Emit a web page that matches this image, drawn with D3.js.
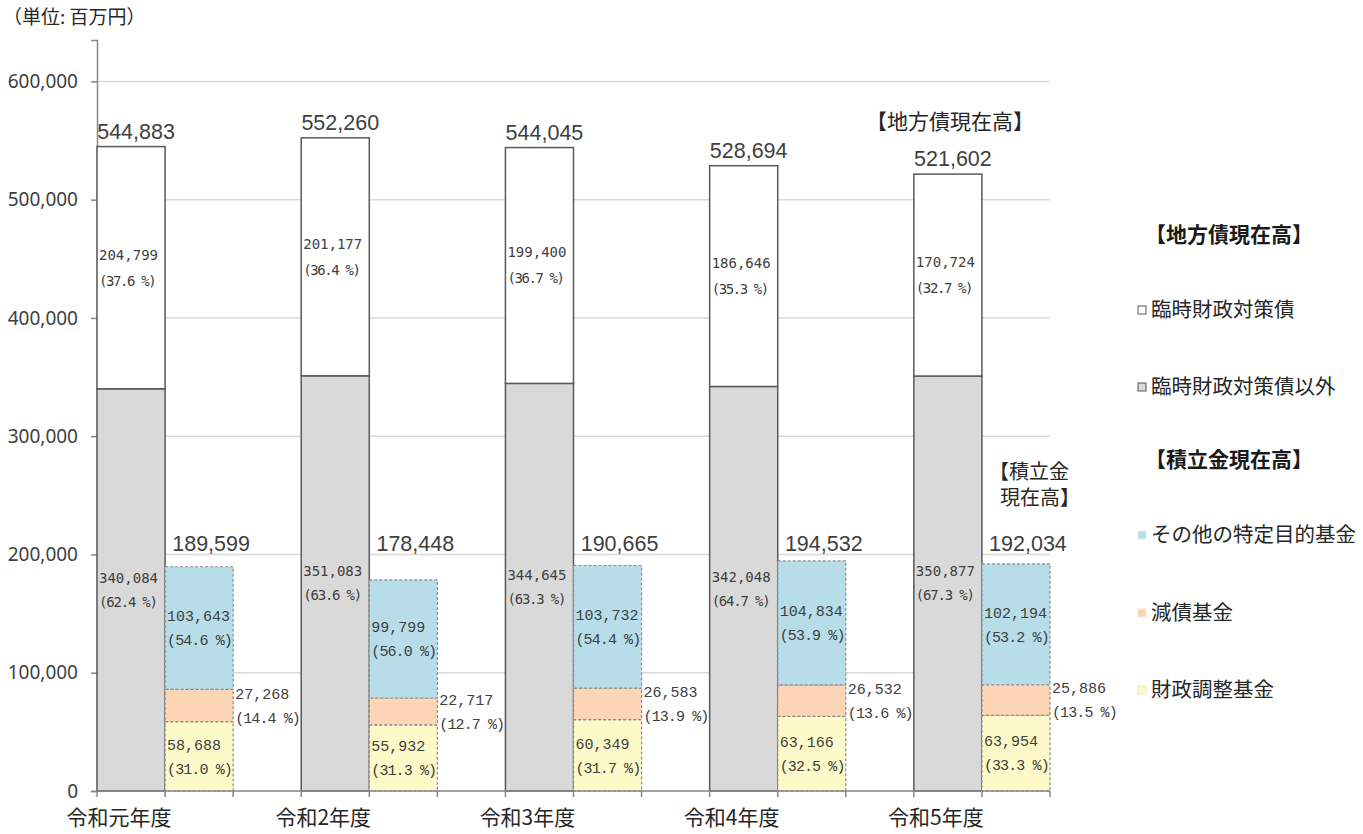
<!DOCTYPE html>
<html><head><meta charset="utf-8">
<script src="https://cdn.jsdelivr.net/npm/d3@7/dist/d3.min.js"></script>
<style>body{margin:0;background:#fff}svg{display:block}</style>
</head><body>
<svg id="c" width="1363" height="834"></svg>
<script>
const categories = ["令和元年度","令和2年度","令和3年度","令和4年度","令和5年度"];
const debtTotal   = [544883, 552260, 544045, 528694, 521602];
const rinzai      = [204799, 201177, 199400, 186646, 170724];
const rinzaiPct   = ["37.6","36.4","36.7","35.3","32.7"];
const rinzaiIgai  = [340084, 351083, 344645, 342048, 350877];
const igaiPct     = ["62.4","63.6","63.3","64.7","67.3"];
const fundTotal   = [189599, 178448, 190665, 194532, 192034];
const zaisei      = [58688, 55932, 60349, 63166, 63954];
const zaiseiPct   = ["31.0","31.3","31.7","32.5","33.3"];
const gensai      = [27268, 22717, 26583, 26532, 25886];
const gensaiPct   = ["14.4","12.7","13.9","13.6","13.5"];
const sonota      = [103643, 99799, 103732, 104834, 102194];
const sonotaPct   = ["54.6","56.0","54.4","53.9","53.2"];
const yTicks      = [0,100000,200000,300000,400000,500000,600000];
const legendItems = [
  {t:"【地方債現在高】", head:true},
  {t:"臨時財政対策債", fill:"#ffffff", stroke:"#595959"},
  {t:"臨時財政対策債以外", fill:"#d9d9d9", stroke:"#595959"},
  {t:"【積立金現在高】", head:true},
  {t:"その他の特定目的基金", fill:"#b7dde8", stroke:"#d8eef4"},
  {t:"減債基金", fill:"#fcd5b5", stroke:"#fde8d8"},
  {t:"財政調整基金", fill:"#fdf9c9", stroke:"#e9efb0"}
];

const svg = d3.select("#c");
const JP = "'Noto Sans CJK JP','Noto Sans',sans-serif";
const fmt = d3.format(",");
const nSlots = categories.length*3 - 1;
const x = d3.scaleBand().domain(d3.range(nSlots)).range([97,1050]).padding(0);
const y = d3.scaleLinear().domain([0,635000]).range([791,40]);
const bw = x.bandwidth();

// gridlines
svg.append("g").selectAll("line").data(yTicks.filter(d=>d>0)).join("line")
  .attr("x1",97).attr("x2",1050).attr("y1",d=>y(d)).attr("y2",d=>y(d))
  .attr("stroke","#d9d9d9").attr("stroke-width",1.5);

// y axis
const yAxis = svg.append("g").attr("transform","translate(97,0)")
  .call(d3.axisLeft(y).tickValues(yTicks).tickFormat(d=>fmt(d)).tickSizeOuter(0).tickSize(6).tickPadding(13));
yAxis.select(".domain").attr("stroke","#868686").attr("stroke-width",1.5);
yAxis.selectAll(".tick line").attr("stroke","#868686").attr("stroke-width",1.5);
yAxis.selectAll("text").attr("font-family","'Noto Sans',sans-serif").attr("font-size",19).attr("fill","#404040");

// bars
const g = svg.append("g");
categories.forEach((c,i)=>{
  const xd = x(i*3), xf = x(i*3+1);
  g.append("rect").attr("x",xd).attr("width",bw)
    .attr("y",y(rinzaiIgai[i])).attr("height",y(0)-y(rinzaiIgai[i]))
    .attr("fill","#d9d9d9").attr("stroke","#595959").attr("stroke-width",1.5);
  g.append("rect").attr("x",xd).attr("width",bw)
    .attr("y",y(rinzaiIgai[i]+rinzai[i])).attr("height",y(rinzaiIgai[i])-y(rinzaiIgai[i]+rinzai[i]))
    .attr("fill","#ffffff").attr("stroke","#595959").attr("stroke-width",1.5);
  const segs = [
    {v0:0, v1:zaisei[i], fill:"#fdf9c9"},
    {v0:zaisei[i], v1:zaisei[i]+gensai[i], fill:"#fcd5b5"},
    {v0:zaisei[i]+gensai[i], v1:zaisei[i]+gensai[i]+sonota[i], fill:"#b7dde8"}
  ];
  segs.forEach(s=>{
    g.append("rect").attr("x",xf).attr("width",bw)
      .attr("y",y(s.v1)).attr("height",y(s.v0)-y(s.v1))
      .attr("fill",s.fill).attr("stroke","#8c8c8c").attr("stroke-width",1.2)
      .attr("stroke-dasharray","3,2");
  });
});

// x axis
svg.append("line").attr("x1",97).attr("x2",1050).attr("y1",y(0)).attr("y2",y(0))
  .attr("stroke","#868686").attr("stroke-width",1.5);
svg.append("g").selectAll("line").data(d3.range(nSlots+1)).join("line")
  .attr("x1",d=>97+d*bw).attr("x2",d=>97+d*bw).attr("y1",y(0)).attr("y2",y(0)+6)
  .attr("stroke","#868686").attr("stroke-width",1.5);
svg.append("g").selectAll("text").data(categories).join("text")
  .attr("x",(d,i)=>x(i*3)+bw/2-12).attr("y",825)
  .attr("text-anchor","middle").attr("font-family",JP).attr("font-size",21).attr("fill","#262626")
  .text(d=>d);

// labels
function twoLine(xp, yc, a, b, font, size, gap, ls){
  const t = svg.append("text").attr("font-family",font).attr("font-size",size)
    .attr("fill","#404040");
  t.append("tspan").attr("x",xp).attr("y",yc-gap/2+size*0.35).text(a);
  t.append("tspan").attr("x",xp).attr("y",yc+gap/2+size*0.35).attr("letter-spacing",ls).text(b);
}
const MONO_S = "'DejaVu Sans Mono',monospace";
const MONO_F = "'Liberation Mono',monospace";
const SANS = "'Liberation Sans',sans-serif";
categories.forEach((c,i)=>{
  const xd = x(i*3), xf = x(i*3+1);
  const topD = rinzaiIgai[i]+rinzai[i];
  twoLine(xd+2, (y(rinzaiIgai[i])+y(topD))/2, fmt(rinzai[i]), "("+rinzaiPct[i]+" %)", MONO_S, 14, 26, -1.4);
  twoLine(xd+2, (y(0)+y(rinzaiIgai[i]))/2, fmt(rinzaiIgai[i]), "("+igaiPct[i]+" %)", MONO_S, 14, 24, -1.2);
  svg.append("text").attr("x",xd+bw/2+5).attr("y",y(debtTotal[i])-8)
    .attr("text-anchor","middle").attr("font-family",SANS)
    .attr("font-size",21.5).attr("fill","#404040").text(fmt(debtTotal[i]));
  const a = zaisei[i], b = a+gensai[i], t = b+sonota[i];
  twoLine(xf+2, (y(0)+y(a))/2, fmt(zaisei[i]), "("+zaiseiPct[i]+" %)", MONO_F, 15, 24, -0.9);
  twoLine(xf+bw+2, (y(a)+y(b))/2, fmt(gensai[i]), "("+gensaiPct[i]+" %)", MONO_F, 15, 24, -0.9);
  twoLine(xf+2, (y(b)+y(t))/2, fmt(sonota[i]), "("+sonotaPct[i]+" %)", MONO_F, 15, 24, -0.9);
  svg.append("text").attr("x",xf+bw/2+12).attr("y",y(d3.max(fundTotal))-10)
    .attr("text-anchor","middle").attr("font-family",SANS)
    .attr("font-size",21.5).attr("fill","#404040").text(fmt(fundTotal[i]));
});

// annotations on last group
const last = categories.length-1;
svg.append("text").attr("x",x(last*3)+bw/2+2).attr("y",y(debtTotal[last])-45)
  .attr("text-anchor","middle").attr("font-family",JP).attr("font-size",21).attr("fill","#262626")
  .text("【地方債現在高】");
const ann = svg.append("text").attr("font-family",JP).attr("font-size",20).attr("fill","#262626");
ann.append("tspan").attr("x",x(last*3+1)+7).attr("y",479).text("【積立金");
ann.append("tspan").attr("x",x(last*3+1)+18).attr("y",505).text("現在高】");

// unit
svg.append("text").attr("x",3).attr("y",24).attr("font-family",JP).attr("font-size",19)
  .attr("fill","#262626").text("（単位: 百万円）");

// legend
const ly = [235,310,387,460,535,613,690];
legendItems.forEach((d,i)=>{
  if(d.head){
    svg.append("text").attr("x",1145).attr("y",ly[i]+7).attr("font-family",JP).attr("font-weight","bold")
      .attr("font-size",21).attr("fill","#1a1a1a").text(d.t);
  } else {
    svg.append("rect").attr("x",1138).attr("y",ly[i]-4).attr("width",8).attr("height",8)
      .attr("fill",d.fill).attr("stroke",d.stroke).attr("stroke-width",1);
    svg.append("text").attr("x",1151).attr("y",ly[i]+7).attr("font-family",JP)
      .attr("font-size",20.5).attr("fill","#262626").text(d.t);
  }
});
</script>
</body></html>
